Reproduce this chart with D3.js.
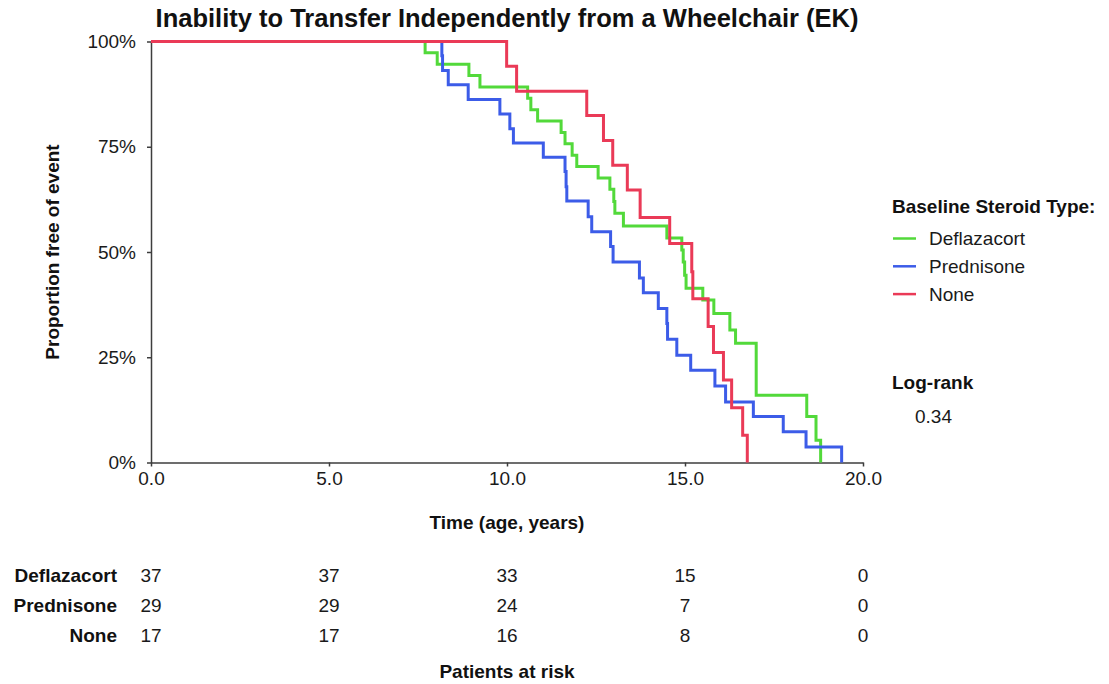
<!DOCTYPE html>
<html>
<head>
<meta charset="utf-8">
<script src="https://cdn.jsdelivr.net/npm/d3@7"></script>
<style>
  body { margin: 0; background: #fff; }
  svg { font-family: 'Liberation Sans', Arial, sans-serif; }
  .axis path, .axis line { stroke: #3d3d3d; stroke-width: 1.5; }
  .axis text { font-size: 19px; fill: #1a1a1a; }
</style>
</head>
<body>
<div id="chart"></div>
<script>
// Kaplan-Meier steps (time in years, survival in %)
const deflazacortTimes = [7.70, 8.04, 8.93, 9.24, 10.58, 10.67, 10.86, 11.52, 11.63, 11.83, 11.96, 12.56, 12.89, 13.00, 13.03, 13.27, 14.49, 14.91, 14.95, 14.99, 15.03, 15.50, 15.81, 16.26, 16.42, 17.00, 18.42, 18.68, 18.81]
const deflazacortSurv = [97.3, 94.6, 91.9, 89.2, 86.5, 83.8, 81.1, 78.4, 75.7, 73.0, 70.3, 67.6, 64.9, 62.0, 59.2, 56.2, 53.3, 50.5, 47.6, 44.5, 41.4, 38.6, 35.4, 31.5, 28.3, 16.0, 10.9, 5.3, 0]

const prednisoneTimes = [8.17, 8.19, 8.35, 8.91, 9.80, 10.08, 10.18, 11.02, 11.63, 11.66, 11.68, 12.28, 12.38, 12.91, 12.98, 13.72, 13.83, 14.25, 14.49, 14.51, 14.77, 15.16, 15.84, 16.14, 16.92, 17.76, 18.40, 19.40]
const prednisoneSurv = [96.6, 93.1, 89.7, 86.2, 82.8, 79.3, 75.9, 72.5, 69.1, 65.5, 62.1, 58.4, 54.8, 51.3, 47.6, 43.8, 40.3, 36.6, 33.0, 29.3, 25.5, 21.9, 18.2, 14.4, 10.9, 7.3, 3.7, 0]

const noneTimes = [9.99, 10.27, 12.24, 12.71, 12.97, 13.38, 13.74, 14.57, 15.19, 15.22, 15.65, 15.80, 16.08, 16.31, 16.62, 16.75]
const noneSurv = [94.1, 88.2, 82.4, 76.5, 70.6, 64.7, 58.2, 52.0, 45.3, 38.9, 32.3, 26.1, 19.6, 13.0, 6.5, 0]

const groups = ['Deflazacort', 'Prednisone', 'None']
const xTicks = [0, 5, 10, 15, 20]
const yTicks = [0, 25, 50, 75, 100]
const deflazacortRisk = [37, 37, 33, 15, 0]
const prednisoneRisk = [29, 29, 24, 7, 0]
const noneRisk = [17, 17, 16, 8, 0]
const logRank = '0.34'

const colors = {
  Deflazacort: '#52d93a',
  Prednisone: '#3c5ce8',
  None: '#ea3a57'
}

const svg = d3
  .select('#chart')
  .append('svg')
  .attr('width', 1109)
  .attr('height', 684)

const plotLeft = 151
const plotRight = 863
const plotTop = 41.5
const plotBottom = 462.5

const xPositionScale = d3.scaleLinear().domain([0, 20]).range([plotLeft, plotRight])
const yPositionScale = d3.scaleLinear().domain([0, 100]).range([plotBottom, plotTop])

// title
svg
  .append('text')
  .attr('x', (plotLeft + plotRight) / 2)
  .attr('y', 27)
  .attr('text-anchor', 'middle')
  .attr('font-size', 25.5)
  .attr('font-weight', 'bold')
  .attr('fill', '#111')
  .text('Inability to Transfer Independently from a Wheelchair (EK)')

// axes
const xAxis = d3
  .axisBottom(xPositionScale)
  .tickValues(xTicks)
  .tickSize(4)
  .tickSizeOuter(0)
  .tickPadding(5)
  .tickFormat(d3.format('.1f'))

svg
  .append('g')
  .attr('class', 'axis x-axis')
  .attr('transform', `translate(0,${plotBottom})`)
  .call(xAxis)

const yAxis = d3
  .axisLeft(yPositionScale)
  .tickValues(yTicks)
  .tickSize(4)
  .tickSizeOuter(0)
  .tickPadding(11)
  .tickFormat(d => d + '%')

svg
  .append('g')
  .attr('class', 'axis y-axis')
  .attr('transform', `translate(${plotLeft},0)`)
  .call(yAxis)

svg
  .append('text')
  .attr('transform', `translate(59,${(plotTop + plotBottom) / 2}) rotate(-90)`)
  .attr('text-anchor', 'middle')
  .attr('font-size', 19)
  .attr('font-weight', 'bold')
  .attr('fill', '#111')
  .text('Proportion free of event')

svg
  .append('text')
  .attr('x', (plotLeft + plotRight) / 2)
  .attr('y', 529)
  .attr('text-anchor', 'middle')
  .attr('font-size', 19)
  .attr('font-weight', 'bold')
  .attr('fill', '#111')
  .text('Time (age, years)')

// curves
const series = [
  { name: 'Deflazacort', times: deflazacortTimes, surv: deflazacortSurv, risk: deflazacortRisk },
  { name: 'Prednisone', times: prednisoneTimes, surv: prednisoneSurv, risk: prednisoneRisk },
  { name: 'None', times: noneTimes, surv: noneSurv, risk: noneRisk }
]

const line = d3
  .line()
  .x(d => xPositionScale(d[0]))
  .y(d => yPositionScale(d[1]))
  .curve(d3.curveStepAfter)

series.forEach(s => {
  const points = [[0, 100]].concat(s.times.map((t, i) => [t, s.surv[i]]))
  svg
    .append('path')
    .datum(points)
    .attr('d', line)
    .attr('fill', 'none')
    .attr('stroke', colors[s.name])
    .attr('stroke-width', 3)
})

// legend
const legend = svg.append('g').attr('transform', 'translate(892,0)')

legend
  .append('text')
  .attr('x', 0)
  .attr('y', 213)
  .attr('font-size', 19)
  .attr('font-weight', 'bold')
  .attr('fill', '#111')
  .text('Baseline Steroid Type:')

groups.forEach((g, i) => {
  const yPos = 238.5 + i * 27.8
  legend
    .append('line')
    .attr('x1', 1)
    .attr('x2', 24)
    .attr('y1', yPos)
    .attr('y2', yPos)
    .attr('stroke', colors[g])
    .attr('stroke-width', 2.5)
  legend
    .append('text')
    .attr('x', 37)
    .attr('y', yPos + 6.7)
    .attr('font-size', 19)
    .attr('fill', '#1a1a1a')
    .text(g)
})

legend
  .append('text')
  .attr('x', 0)
  .attr('y', 389)
  .attr('font-size', 19)
  .attr('font-weight', 'bold')
  .attr('fill', '#111')
  .text('Log-rank')

legend
  .append('text')
  .attr('x', 23)
  .attr('y', 423)
  .attr('font-size', 19)
  .attr('fill', '#1a1a1a')
  .text(logRank)

// patients at risk
series.forEach((s, i) => {
  const yPos = 582 + i * 30.2
  svg
    .append('text')
    .attr('x', 117)
    .attr('y', yPos)
    .attr('text-anchor', 'end')
    .attr('font-size', 19)
    .attr('font-weight', 'bold')
    .attr('fill', '#111')
    .text(s.name)
  svg
    .selectAll(null)
    .data(s.risk)
    .enter()
    .append('text')
    .attr('x', (d, j) => xPositionScale(xTicks[j]))
    .attr('y', yPos)
    .attr('text-anchor', 'middle')
    .attr('font-size', 19)
    .attr('fill', '#1a1a1a')
    .text(d => d)
})

svg
  .append('text')
  .attr('x', (plotLeft + plotRight) / 2)
  .attr('y', 678)
  .attr('text-anchor', 'middle')
  .attr('font-size', 19)
  .attr('font-weight', 'bold')
  .attr('fill', '#111')
  .text('Patients at risk')
</script>
</body>
</html>
